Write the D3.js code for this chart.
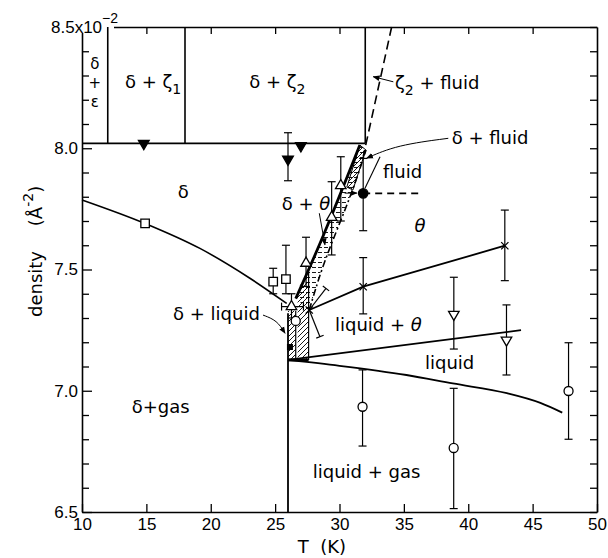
<!DOCTYPE html>
<html><head><meta charset="utf-8">
<script src="https://cdn.jsdelivr.net/npm/d3@7"></script>
<style>body{margin:0;background:#fff}</style>
</head><body>
<svg id="c" width="608" height="558"></svg>
<script>
// ---------- data ----------
const tTicks = [10, 15, 20, 25, 30, 35, 40, 45, 50];
const tTopTicks = [15, 20, 25, 30, 35, 40, 45];
const rhoMajor = [6.5, 7.0, 7.5, 8.0, 8.5];
const rhoMinor = [6.5, 6.6, 6.7, 6.8, 6.9, 7.0, 7.1, 7.2, 7.3, 7.4, 7.5, 7.6, 7.7, 7.8, 7.9, 8.0, 8.1, 8.2, 8.3, 8.4, 8.5];

// phase boundaries [T, rho]
const deltaGasBoundary = [[10, 7.787], [14.9, 7.69], [19.16, 7.587], [23.04, 7.464], [25.9, 7.36]];
const zetaBase = [[10, 8.02], [32, 8.02]];
const zetaVerticals = [[12, 8.02, 8.5], [18, 8.02, 8.5], [32, 8.02, 8.5]];
const triplePointLine = [[26, 6.5], [26, 7.32]];
const zetaFluidDashed = [[34.05, 8.5], [31.84, 7.965]];
const fluidThetaDashed = [[31.84, 7.814], [36.2, 7.814]];
const liquidUpper = [[26, 7.127], [44.1, 7.25]];
const liquidGas = [[26, 7.127], [30, 7.103], [35.2, 7.065], [38.8, 7.03], [43, 6.99], [45.6, 6.95], [47.3, 6.91]];
const thetaBoundary = [[27.65, 7.333], [31.84, 7.429], [42.84, 7.598]];
const deltaThetaLeft = [[26.6, 7.38], [28.63, 7.62], [31.58, 8.013]];
const deltaThetaRight = [[27.65, 7.333], [28.62, 7.505], [29.8, 7.663], [30.43, 7.745], [31.36, 7.877], [32.06, 7.993]];
const fluidEdge = [[33.15, 7.965], [31.98, 7.835]];
const bottomBar = [[26, 7.127], [27.6, 7.127]];

// hatched regions
const deltaFluidBand = [[31.58, 8.013], [32.05, 7.993], [31.04, 7.828], [30.57, 7.84]];
const deltaLiquidStrip = [[26, 7.127], [26.6, 7.127], [26.6, 7.33], [26, 7.33]];
const liquidThetaStrip = [[26.75, 7.127], [27.6, 7.127], [27.6, 7.49], [26.75, 7.42]];

// markers: [T, rho, errLow, errHigh]
const squares = [[14.9, 7.69], [24.85, 7.45, 7.40, 7.505], [25.84, 7.46, 7.40, 7.60]];
const filledDown = [[14.8, 8.02], [26.0, 7.955, 7.866, 8.064], [27.0, 8.01]];
const openUp = [[26.27, 7.347, 7.30, 7.40], [27.4, 7.526, 7.43, 7.633], [29.39, 7.715, 7.56, 7.862], [30.1, 7.846, 7.70, 7.965]];
const openUpHErr = [[26.27, 7.347, 25.5, 27.2]];
const filledCircles = [[31.84, 7.814, 7.66, 7.958]];
const openCircles = [[26.6, 7.288], [31.79, 6.934, 6.772, 7.086], [38.87, 6.764, 6.514, 7.01], [47.79, 6.999, 6.80, 7.198]];
const xMarks = [[27.65, 7.333], [31.84, 7.429, 7.317, 7.549], [42.84, 7.598, 7.454, 7.745]];
const xMarkTilted = [[27.65, 7.333, 28.95, 7.422], [27.65, 7.333, 28.48, 7.223]];
const openDown = [[38.88, 7.315, 7.172, 7.468], [42.97, 7.209, 7.065, 7.354]];
const blobs = [[26.15, 7.18]];

// pointer lines
const pointers = [
  [[34.18, 8.274], [32.62, 8.295]],
  [[38.45, 8.041], [34.44, 8.013], [32.11, 7.959]],
  [[28.43, 7.732], [28.87, 7.602]],
  [[24.06, 7.312], [25.15, 7.29], [25.77, 7.237]],
  [[30.4, 7.815], [31.35, 7.815]]
];

// region labels: [parts, T, rho, anchor, size]
const labels = [
  [[["δ + ζ"], ["1", "sub"]], 13.34, 8.274, "start", 18],
  [[["δ + ζ"], ["2", "sub"]], 22.99, 8.274, "start", 18],
  [[["ζ"], ["2", "sub"], ["+ fluid", "back"]], 34.31, 8.269, "start", 18],
  [[["δ + fluid"]], 38.71, 8.042, "start", 18],
  [[["fluid"]], 33.38, 7.903, "start", 18],
  [[["θ", "it"]], 36.25, 7.679, "middle", 18],
  [[["δ + "], ["θ", "it"]], 25.51, 7.773, "start", 18],
  [[["δ"]], 17.87, 7.821, "middle", 18],
  [[["liquid + "], ["θ", "it"]], 29.65, 7.274, "start", 18],
  [[["liquid"]], 36.64, 7.116, "start", 18],
  [[["liquid + gas"]], 27.92, 6.665, "start", 18],
  [[["δ+gas"]], 13.86, 6.934, "start", 18],
  [[["δ + liquid"]], 17.07, 7.317, "start", 18],
  [[["δ"]], 11.0, 8.35, "middle", 15],
  [[["+"]], 11.0, 8.27, "middle", 15],
  [[["ε"]], 11.0, 8.19, "middle", 15]
];

// ---------- drawing ----------
const svg = d3.select("#c");
const x = d3.scaleLinear().domain([10, 50]).range([82, 597]);
const y = d3.scaleLinear().domain([6.5, 8.5]).range([512, 27]);
const line = d3.line().x(d => x(d[0])).y(d => y(d[1]));
const curve = d3.line().x(d => x(d[0])).y(d => y(d[1])).curve(d3.curveMonotoneX);
const smooth = d3.line().x(d => x(d[0])).y(d => y(d[1])).curve(d3.curveBasis);

const defs = svg.append("defs");
const pd = defs.append("pattern").attr("id", "diag").attr("patternUnits", "userSpaceOnUse")
  .attr("width", 5).attr("height", 5);
pd.append("path").attr("d", "M-1,6 L6,-1").attr("stroke", "#000").attr("stroke-width", 0.9);
const ph = defs.append("pattern").attr("id", "horiz").attr("patternUnits", "userSpaceOnUse")
  .attr("width", 6).attr("height", 5);
ph.append("path").attr("d", "M0,2.5 L4,2.5").attr("stroke", "#000").attr("stroke-width", 0.9);
defs.append("marker").attr("id", "arr").attr("viewBox", "0 0 10 10").attr("refX", 9).attr("refY", 5)
  .attr("markerWidth", 7).attr("markerHeight", 7).attr("orient", "auto-start-reverse")
  .append("path").attr("d", "M0,1 L10,5 L0,9 z").attr("fill", "#000");

// axes
const axFont = "'Liberation Sans', Arial, sans-serif";
const gB = svg.append("g").attr("transform", "translate(0,512)")
  .call(d3.axisBottom(x).tickValues(tTicks).tickSizeInner(-8).tickSizeOuter(0).tickPadding(6).tickFormat(d3.format("d")));
const gT = svg.append("g").attr("transform", "translate(0,27)")
  .call(d3.axisTop(x).tickValues(tTopTicks).tickSizeInner(-7).tickSizeOuter(0).tickFormat(""));
const gL = svg.append("g").attr("transform", "translate(82,0)")
  .call(d3.axisLeft(y).tickValues(rhoMinor).tickSizeInner(-7).tickSizeOuter(0).tickPadding(4)
    .tickFormat(d => (rhoMajor.includes(+d.toFixed(1)) && d < 8.45) ? d3.format(".1f")(d) : ""));
const gR = svg.append("g").attr("transform", "translate(597,0)")
  .call(d3.axisRight(y).tickValues(rhoMinor).tickSizeInner(-7).tickSizeOuter(0).tickFormat(""));
gL.selectAll(".tick line").filter(d => rhoMajor.includes(+d.toFixed(1))).attr("x2", 10);
[gB, gT, gL, gR].forEach(g => {
  g.selectAll("path.domain").attr("stroke-width", 1.6);
  g.selectAll(".tick line").attr("stroke-width", 1.3);
  g.selectAll("text").attr("font-family", axFont).attr("font-size", 17).attr("fill", "#000");
});

// 8.5 x 10^-2 label
svg.append("rect").attr("x", 80).attr("y", 14).attr("width", 34).attr("height", 19).attr("fill", "#fff");
const lab85 = svg.append("text").attr("x", 51).attr("y", 33).attr("font-family", axFont).attr("font-size", 17);
lab85.append("tspan").text("8.5x10");
lab85.append("tspan").attr("dy", -10).attr("font-size", 14).text("−2");

// axis titles
const tf = "'DejaVu Sans', sans-serif";
svg.append("text").attr("x", 322).attr("y", 553).attr("text-anchor", "middle").attr("font-family", tf).attr("font-size", 18)
  .attr("xml:space", "preserve").text("T  (K)");
svg.append("text").attr("transform", "translate(42,284) rotate(-90)").attr("text-anchor", "middle")
  .attr("font-family", tf).attr("font-size", 18).text("density");
const yl2 = svg.append("text").attr("transform", "translate(42,206) rotate(-90)").attr("text-anchor", "middle")
  .attr("font-family", tf).attr("font-size", 18);
yl2.append("tspan").text("(Å");
yl2.append("tspan").attr("dy", -9).attr("font-size", 14).text("-2");
yl2.append("tspan").attr("dy", 9).text(")");

// hatched regions
const deltaThetaPoly = deltaThetaLeft.concat(deltaThetaRight.slice().reverse());
svg.append("path").attr("d", line(deltaThetaPoly) + "Z").attr("fill", "url(#horiz)");
[deltaFluidBand, deltaLiquidStrip, liquidThetaStrip].forEach(p =>
  svg.append("path").attr("d", line(p) + "Z").attr("fill", "url(#diag)"));
svg.append("path").attr("d", line(deltaFluidBand) + "Z").attr("fill", "none").attr("stroke", "#000").attr("stroke-width", 1);
[[liquidThetaStrip[1], liquidThetaStrip[2]], [deltaLiquidStrip[1], deltaLiquidStrip[2]]].forEach(p =>
  svg.append("path").attr("d", line(p)).attr("stroke", "#000").attr("stroke-width", 1.2).attr("fill", "none"));

// boundary lines
const stroke = (d, w, dash, gen) => svg.append("path").attr("d", (gen || line)(d)).attr("fill", "none")
  .attr("stroke", "#000").attr("stroke-width", w).attr("stroke-dasharray", dash || null);
stroke(deltaGasBoundary, 1.6, null, curve);
stroke(zetaBase, 1.6);
zetaVerticals.forEach(v => stroke([[v[0], v[1]], [v[0], v[2]]], 1.6));
stroke(triplePointLine, 1.8);
stroke(zetaFluidDashed, 1.6, "9,5");
stroke(fluidThetaDashed, 1.6, "7,5");
stroke(liquidUpper, 1.8);
stroke(liquidGas, 1.8, null, curve);
stroke(thetaBoundary, 1.8);
stroke(deltaThetaLeft, 2.8, null, smooth);
stroke(deltaThetaRight, 1.6, "7,3,2,3", smooth);
stroke(fluidEdge, 1.1);
stroke(bottomBar, 3);

// pointers
pointers.forEach(p => svg.append("path").attr("d", smooth(p)).attr("fill", "none").attr("stroke", "#000")
  .attr("stroke-width", 1).attr("marker-end", "url(#arr)"));

// error bars
const cap = 4;
function vErr(data) {
  data.filter(d => d.length > 2).forEach(d => {
    const g = svg.append("g").attr("stroke", "#000").attr("stroke-width", 1.2);
    g.append("line").attr("x1", x(d[0])).attr("x2", x(d[0])).attr("y1", y(d[2])).attr("y2", y(d[3]));
    [d[2], d[3]].forEach(v => g.append("line").attr("x1", x(d[0]) - cap).attr("x2", x(d[0]) + cap)
      .attr("y1", y(v)).attr("y2", y(v)));
  });
}
[squares, filledDown, openUp, filledCircles, openCircles, xMarks, openDown].forEach(vErr);
openUpHErr.forEach(d => {
  const g = svg.append("g").attr("stroke", "#000").attr("stroke-width", 1.2);
  g.append("line").attr("x1", x(d[2])).attr("x2", x(d[3])).attr("y1", y(d[1])).attr("y2", y(d[1]));
  [d[2], d[3]].forEach(v => g.append("line").attr("x1", x(v)).attr("x2", x(v)).attr("y1", y(d[1]) - cap).attr("y2", y(d[1]) + cap));
});
xMarkTilted.forEach(d => {
  const x1 = x(d[0]), y1 = y(d[1]), x2 = x(d[2]), y2 = y(d[3]);
  const L = Math.hypot(x2 - x1, y2 - y1), nx = -(y2 - y1) / L * cap, ny = (x2 - x1) / L * cap;
  const g = svg.append("g").attr("stroke", "#000").attr("stroke-width", 1.2);
  g.append("line").attr("x1", x1).attr("y1", y1).attr("x2", x2).attr("y2", y2);
  g.append("line").attr("x1", x2 - nx).attr("y1", y2 - ny).attr("x2", x2 + nx).attr("y2", y2 + ny);
});

// markers
function marks(data, type, size, fill, rot) {
  svg.append("g").selectAll("path").data(data).join("path")
    .attr("d", d3.symbol().type(type).size(size))
    .attr("transform", d => `translate(${x(d[0])},${y(d[1])}) rotate(${rot || 0})`)
    .attr("fill", fill).attr("stroke", "#000").attr("stroke-width", 1.3);
}
marks(squares, d3.symbolSquare, 72, "#fff");
marks(filledDown, d3.symbolTriangle, 50, "#000", 180);
marks(openUp, d3.symbolTriangle, 48, "#fff");
marks(openDown, d3.symbolTriangle, 48, "#fff", 180);
marks(filledCircles, d3.symbolCircle, 70, "#000");
marks(openCircles, d3.symbolCircle, 64, "#fff");
marks(xMarks, d3.symbolTimes, 36, "none");
marks(blobs, d3.symbolSquare, 22, "#000");

// labels
labels.forEach(([parts, T, r, anchor, size]) => {
  const t = svg.append("text").attr("x", x(T)).attr("y", y(r)).attr("dy", "0.35em")
    .attr("text-anchor", anchor).attr("font-family", tf).attr("font-size", size).attr("xml:space", "preserve");
  parts.forEach(([s, kind]) => {
    const ts = t.append("tspan").text(s);
    if (kind === "sub") ts.attr("dy", 6).attr("font-size", 14);
    if (kind === "back") ts.attr("dy", -6).text(" " + s);
    if (kind === "it") ts.attr("font-style", "italic");
  });
});
</script>
</body></html>
